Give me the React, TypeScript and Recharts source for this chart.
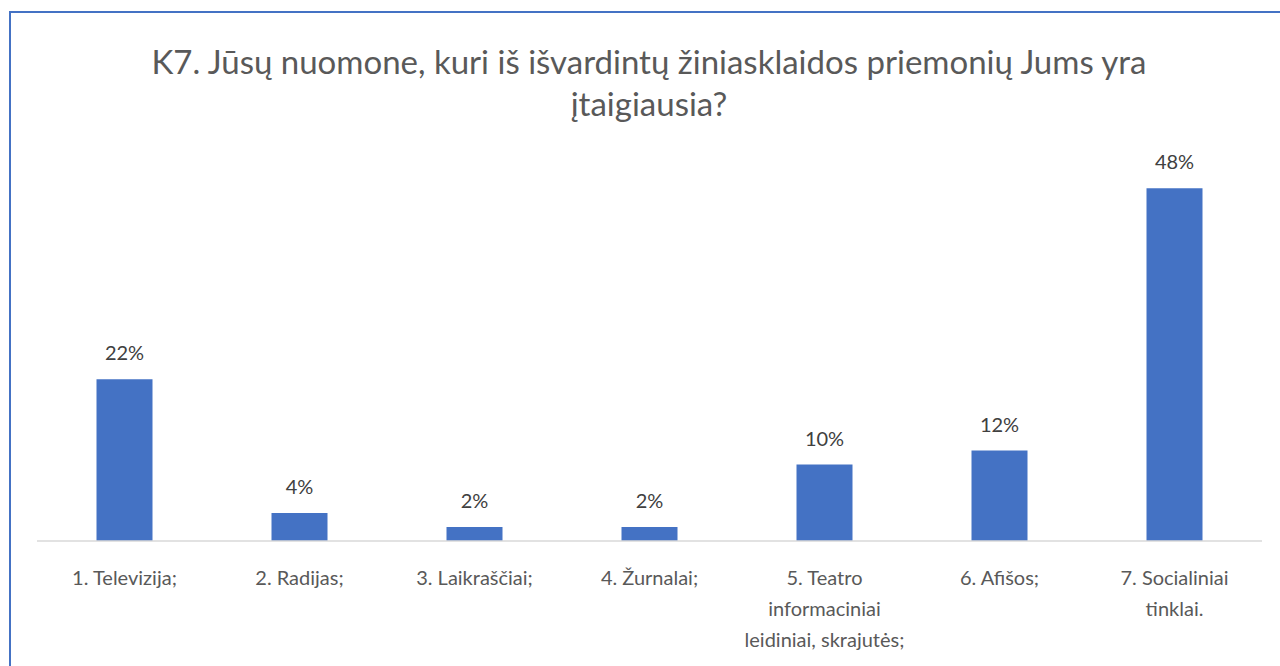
import React from "react";
import { BarChart, Bar, XAxis, YAxis, LabelList } from "recharts";

const TITLE_LINES = [
  "K7. Jūsų nuomone, kuri iš išvardintų žiniasklaidos priemonių Jums yra",
  "įtaigiausia?",
];

// category labels, "\n" marks where the original wraps
const categories = [
  "1. Televizija;",
  "2. Radijas;",
  "3. Laikraščiai;",
  "4. Žurnalai;",
  "5. Teatro\ninformaciniai\nleidiniai, skrajutės;",
  "6. Afišos;",
  "7. Socialiniai\ntinklai.",
];

// share of answers, %
const shares = [22.0, 3.8, 1.9, 1.9, 10.4, 12.3, 48.0];

const data = categories.map((name, i) => ({ name, value: shares[i] }));

const FONT = "Lato, 'Open Sans', sans-serif";
const BLUE = "#4472C4";

function CategoryTick(props: any) {
  const { x, y, payload } = props;
  const lines = String(payload.value).split("\n");
  return (
    <text
      x={x}
      y={y}
      textAnchor="middle"
      fill="#595959"
      fontSize={20}
      fontFamily={FONT}
    >
      {lines.map((line, i) => (
        <tspan key={i} x={x} dy={i === 0 ? 42 : 31}>
          {line}
        </tspan>
      ))}
    </text>
  );
}

export default function App() {
  return (
    <div
      style={{
        position: "fixed",
        left: 0,
        top: 0,
        width: 1280,
        height: 666,
        overflow: "hidden",
        background: "#fff",
      }}
    >
      <div
        style={{
          position: "absolute",
          left: 9,
          top: 11,
          width: 1400,
          height: 800,
          borderTop: `2px solid ${BLUE}`,
          borderLeft: `2px solid ${BLUE}`,
        }}
      />
      <div
        style={{
          position: "absolute",
          left: 0,
          top: 40,
          width: 1298,
          textAlign: "center",
          fontFamily: FONT,
          fontSize: 33,
          lineHeight: "42px",
          color: "#595959",
        }}
      >
        {TITLE_LINES.map((t, i) => (
          <div key={i}>{t}</div>
        ))}
      </div>
      <div style={{ position: "absolute", left: 0, top: 0 }}>
        <BarChart
          width={1280}
          height={666}
          data={data}
          margin={{ top: 173.5, right: 18, bottom: 25, left: 37 }}
          barCategoryGap="34%"
        >
          <XAxis
            dataKey="name"
            height={100}
            axisLine={{ stroke: "#d9d9d9", strokeWidth: 1.5 }}
            tickLine={false}
            tickSize={0}
            interval={0}
            tick={<CategoryTick />}
          />
          <YAxis hide domain={[0, 50]} />
          <Bar dataKey="value" fill={BLUE} isAnimationActive={false}>
            <LabelList
              dataKey="value"
              position="top"
              offset={19}
              fill="#404040"
              fontSize={20}
              fontFamily={FONT}
              formatter={(v: any) => `${Math.round(Number(v))}%`}
            />
          </Bar>
        </BarChart>
      </div>
    </div>
  );
}
